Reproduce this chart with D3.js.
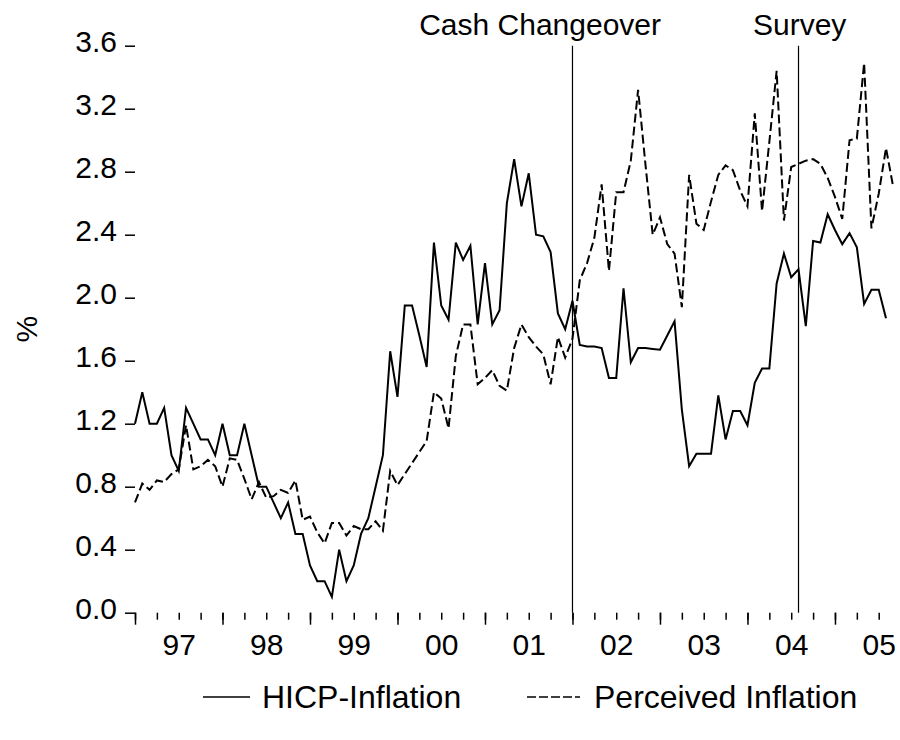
<!DOCTYPE html>
<html>
<head>
<meta charset="utf-8">
<script src="https://cdn.jsdelivr.net/npm/d3@7"></script>
<style>
  body { margin: 0; background: #fff; }
  text { font-family: "Liberation Sans", Arial, sans-serif; fill: #000; }
</style>
</head>
<body>
<div id="chart"></div>
<script>
// monthly data, first observation january 1997
var startYear = 1997;

var hicp = [1.2,1.4,1.2,1.2,1.3,1.0,0.9,1.3,1.2,1.1,1.1,1.0,
  1.2,1.0,1.0,1.2,1.0,0.8,0.8,0.7,0.6,0.7,0.5,0.5,
  0.3,0.2,0.2,0.1,0.4,0.2,0.3,0.5,0.6,0.8,1.0,1.66,
  1.37,1.95,1.95,1.76,1.56,2.35,1.95,1.86,2.35,2.24,2.33,1.83,
  2.22,1.83,1.92,2.60,2.88,2.58,2.79,2.40,2.39,2.29,1.90,1.80,
  1.98,1.70,1.69,1.69,1.68,1.49,1.49,2.06,1.59,1.68,1.68,1.675,
  1.67,1.76,1.85,1.29,0.93,1.01,1.01,1.01,1.38,1.10,1.28,1.28,
  1.19,1.46,1.55,1.55,2.09,2.28,2.13,2.18,1.82,2.36,2.35,2.53,
  2.43,2.34,2.41,2.32,1.96,2.05,2.05,1.87];

var perceived = [0.70,0.82,0.78,0.84,0.83,0.88,0.91,1.19,0.91,0.93,0.97,0.93,
  0.80,0.98,0.97,0.85,0.72,0.83,0.73,0.74,0.78,0.76,0.84,0.59,
  0.61,0.51,0.44,0.57,0.57,0.49,0.55,0.53,0.53,0.58,0.52,0.90,
  0.81,0.88,0.95,1.02,1.09,1.40,1.36,1.17,1.63,1.83,1.83,1.45,
  1.49,1.54,1.44,1.41,1.68,1.83,1.75,1.69,1.64,1.45,1.75,1.62,
  1.74,2.11,2.22,2.38,2.72,2.17,2.67,2.67,2.87,3.32,2.85,2.40,
  2.51,2.34,2.28,1.94,2.78,2.47,2.43,2.61,2.78,2.84,2.81,2.68,
  2.58,3.17,2.55,2.99,3.44,2.49,2.83,2.85,2.87,2.88,2.85,2.76,
  2.64,2.50,3.00,3.01,3.49,2.44,2.66,2.95,2.70];

var yearLabels = ["97","98","99","00","01","02","03","04","05"];
var yTicks = [0.0,0.4,0.8,1.2,1.6,2.0,2.4,2.8,3.2,3.6];

// events: [year fraction, label]
var events = [
  { t: 2002 + 0/12, name: "Cash Changeover" },
  { t: 2004 + 7/12, name: "Survey" }
];

var seriesNames = ["HICP-Inflation", "Perceived Inflation"];

var width = 900,
    height = 740;

var x = d3.scaleLinear()
  .domain([startYear, startYear + (perceived.length - 1) / 12])
  .range([135, 893.3]);

var y = d3.scaleLinear()
  .domain([0, 3.6])
  .range([612.7, 45.7]);

var svg = d3.select("#chart").append("svg")
  .attr("width", width)
  .attr("height", height);

//y axis, ticks only
var yAxis = svg.append("g")
  .attr("transform", "translate(" + x.range()[0] + ",0)")
  .call(d3.axisLeft(y).tickValues(yTicks).tickSize(10).tickPadding(8).tickFormat(d3.format(".1f")));
yAxis.select(".domain").remove();
yAxis.selectAll("line").attr("stroke-width", 1.5);
yAxis.selectAll("text").attr("font-size", 30).attr("dy", "0.2em");

//x axis: quarter ticks, year ticks, labels in the middle of each year
var quarters = d3.range(startYear, x.domain()[1] + 0.001, 0.25);
var years = d3.range(startYear, x.domain()[1] + 0.001, 1);

var xMinor = svg.append("g")
  .attr("transform", "translate(0," + y(0) + ")")
  .call(d3.axisBottom(x).tickValues(quarters).tickSize(7).tickFormat(""));
var xMajor = svg.append("g")
  .attr("transform", "translate(0," + y(0) + ")")
  .call(d3.axisBottom(x).tickValues(years).tickSize(12).tickFormat(""));
var xLab = svg.append("g")
  .attr("transform", "translate(0," + y(0) + ")")
  .call(d3.axisBottom(x).tickValues(years.map(function(d) { return d + 0.5; }))
    .tickSize(0).tickPadding(21)
    .tickFormat(function(d, i) { return yearLabels[i]; }));

[xMinor, xMajor, xLab].forEach(function(a) {
  a.select(".domain").remove();
  a.selectAll("line").attr("stroke-width", 1.5);
});
xLab.selectAll("text").attr("font-size", 30);

svg.append("text")
  .attr("transform", "translate(37," + (y(1.8)) + ") rotate(-90)")
  .attr("text-anchor", "middle")
  .attr("font-size", 30)
  .text("%");

//event lines
svg.selectAll(".event")
  .data(events)
  .enter().append("line")
  .attr("class", "event")
  .attr("x1", function(d) { return x(d.t); })
  .attr("x2", function(d) { return x(d.t); })
  .attr("y1", y(3.6))
  .attr("y2", y(0))
  .attr("stroke", "#000")
  .attr("stroke-width", 1.2);

svg.append("text")
  .attr("x", 661).attr("y", 35)
  .attr("text-anchor", "end")
  .attr("font-size", 30)
  .text(events[0].name);

svg.append("text")
  .attr("x", 753).attr("y", 35)
  .attr("font-size", 30)
  .text(events[1].name);

var line = d3.line()
  .x(function(d, i) { return x(startYear + i / 12); })
  .y(function(d) { return y(d); });

svg.append("path")
  .datum(hicp)
  .attr("d", line)
  .attr("fill", "none")
  .attr("stroke", "#000")
  .attr("stroke-width", 2);

svg.append("path")
  .datum(perceived)
  .attr("d", line)
  .attr("fill", "none")
  .attr("stroke", "#000")
  .attr("stroke-width", 2)
  .attr("stroke-dasharray", "9,4");

//legend
var legend = svg.append("g");
var legendItems = [
  { x1: 203, x2: 250, tx: 262, dash: null },
  { x1: 527, x2: 580, tx: 594, dash: "9,3" }
];
legendItems.forEach(function(d, i) {
  legend.append("line")
    .attr("x1", d.x1).attr("x2", d.x2)
    .attr("y1", 697).attr("y2", 697)
    .attr("stroke", "#000")
    .attr("stroke-width", 1.5)
    .attr("stroke-dasharray", d.dash);
  legend.append("text")
    .attr("x", d.tx).attr("y", 708)
    .attr("font-size", 32)
    .text(seriesNames[i]);
});
</script>
</body>
</html>
